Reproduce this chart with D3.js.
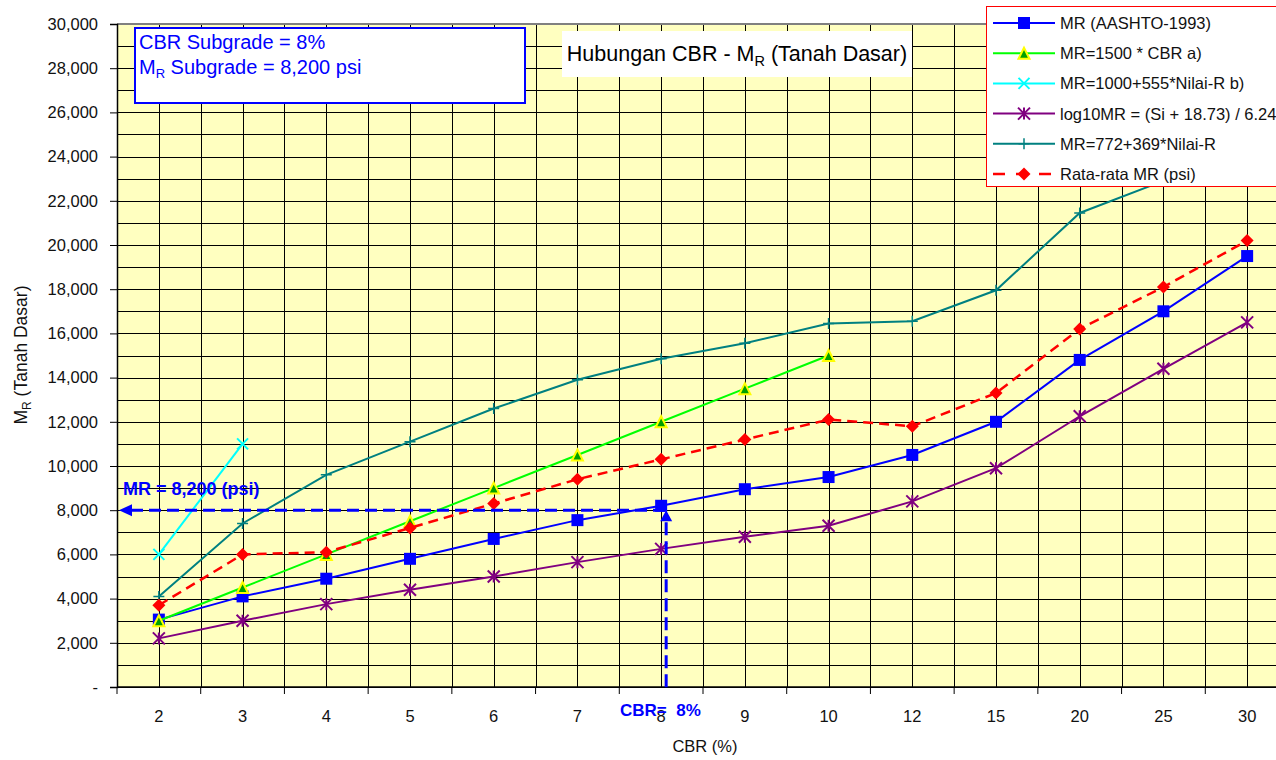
<!DOCTYPE html>
<html>
<head>
  <meta charset="utf-8">
  <title>Hubungan CBR - MR</title>
  <script src="https://d3js.org/d3.v7.min.js"></script>
  <style>
    body { margin: 0; background: #fff; }
    svg { font-family: "Liberation Sans", Arial, sans-serif; }
  </style>
</head>
<body>
<svg width="1276" height="760"></svg>
<script>
// data
var categories = ["2","3","4","5","6","7","8","9","10","12","15","20","25","30"];
var mrAashto   = [3050,4100,4900,5800,6700,7550,8200,8950,9500,10500,12000,14800,17000,19500];
var mrCbr      = [3000,4500,6000,7500,9000,10500,12000,13500,15000,null,null,null,null,null];
var mrNilaiR1  = [6000,11000,null,null,null,null,null,null,null,null,null,null,null,null];
var mrLogSi    = [2200,3000,3750,4400,5000,5650,6250,6800,7300,8400,9900,12250,14400,16500];
var mrNilaiR2  = [4100,7400,9600,11100,12600,13900,14850,15550,16450,16550,17950,21450,22900,24600];
var mrAverage  = [3700,6000,6100,7200,8300,9400,10300,11200,12100,11800,13300,16200,18100,20200];
var yTicks = d3.range(0, 30001, 2000);
var yGrid = d3.range(0, 30001, 1000);
var mrSubgrade = 8000;   // level of the horizontal arrow
var cbrSubgrade = "8";

var series = [
  {name: "MR (AASHTO-1993)", values: mrAashto, color: "#0000ff", marker: "square"},
  {name: "MR=1500 * CBR a)", values: mrCbr, color: "#00ff00", marker: "triangle"},
  {name: "MR=1000+555*Nilai-R b)", values: mrNilaiR1, color: "#00ffff", marker: "x"},
  {name: "log10MR = (Si + 18.73) / 6.24", values: mrLogSi, color: "#800080", marker: "star"},
  {name: "MR=772+369*Nilai-R", values: mrNilaiR2, color: "#008080", marker: "plus"},
  {name: "Rata-rata MR (psi)", values: mrAverage, color: "#ff0000", marker: "diamond", dash: "10,6"}
];

var svg = d3.select("svg");
var pLeft = 117, pTop = 24, pBottom = 687, pRight = 1289;

var x = d3.scaleBand().domain(categories).range([pLeft, pRight]);
var bw = x.bandwidth();
var xc = function(c) { return x(c) + bw / 2; };
var y = d3.scaleLinear().domain([0, 30000]).range([pBottom, pTop]);

// plot background
svg.append("rect").attr("x", pLeft).attr("y", pTop).attr("width", pRight - pLeft).attr("height", pBottom - pTop)
  .attr("fill", "#ffffc0");

// grid
var grid = svg.append("g").attr("shape-rendering", "crispEdges");
grid.selectAll(".hg").data(yGrid).enter().append("line")
  .attr("x1", pLeft).attr("x2", pRight)
  .attr("y1", function(d) { return Math.round(y(d)) + 0.5; })
  .attr("y2", function(d) { return Math.round(y(d)) + 0.5; })
  .attr("stroke", "#000").attr("stroke-width", 1);
var vx = [];
categories.forEach(function(c) { vx.push(x(c)); vx.push(xc(c)); });
grid.selectAll(".vg").data(vx).enter().append("line")
  .attr("y1", pTop).attr("y2", pBottom)
  .attr("x1", function(d) { return Math.round(d) + 0.5; })
  .attr("x2", function(d) { return Math.round(d) + 0.5; })
  .attr("stroke", "#000").attr("stroke-width", 1);
svg.append("line").attr("x1", pLeft).attr("x2", pRight).attr("y1", pTop).attr("y2", pTop)
  .attr("stroke", "#808080").attr("stroke-width", 2);

// axes
var yAxis = d3.axisLeft(y).tickValues(yTicks).tickSize(7).tickPadding(12)
  .tickFormat(function(d) { return d === 0 ? "-" : d3.format(",")(d); });
var gy = svg.append("g").attr("transform", "translate(" + pLeft + ",0)").call(yAxis);
gy.select(".domain").attr("stroke", "#000").attr("stroke-width", 1.5);
gy.selectAll("text").attr("font-size", 16.5).attr("fill", "#111").attr("font-family", "Liberation Sans, Arial");

var gx = svg.append("g").attr("transform", "translate(0," + pBottom + ")");
gx.append("line").attr("x1", pLeft).attr("x2", pRight).attr("stroke", "#000").attr("stroke-width", 1.5);
gx.selectAll(".tk").data(categories.concat(["end"])).enter().append("line")
  .attr("x1", function(d, i) { return pLeft + i * bw; })
  .attr("x2", function(d, i) { return pLeft + i * bw; })
  .attr("y1", 0).attr("y2", 7).attr("stroke", "#000");
gx.selectAll(".lb").data(categories).enter().append("text")
  .attr("x", function(d) { return xc(d); }).attr("y", 35)
  .attr("text-anchor", "middle").attr("font-size", 16.5).attr("fill", "#111")
  .text(function(d) { return d; });

svg.append("text").attr("x", 705).attr("y", 752).attr("text-anchor", "middle")
  .attr("font-size", 16.5).attr("fill", "#111").text("CBR (%)");
var yl = svg.append("text").attr("transform", "translate(27,355) rotate(-90)")
  .attr("text-anchor", "middle").attr("font-size", 17.5).attr("fill", "#111");
yl.append("tspan").text("M");
yl.append("tspan").attr("font-size", 12).attr("dy", 4).text("R");
yl.append("tspan").attr("dy", -4).text(" (Tanah Dasar)");

// markers
function markerPath(type, s) {
  var h = s / 2;
  if (type === "square") return "M" + -h + "," + -h + "H" + h + "V" + h + "H" + -h + "Z";
  if (type === "diamond") return "M0," + -h + "L" + h + ",0L0," + h + "L" + -h + ",0Z";
  if (type === "triangle") return "M0," + -h + "L" + h + "," + h + "L" + -h + "," + h + "Z";
  if (type === "x") return "M" + -h + "," + -h + "L" + h + "," + h + "M" + h + "," + -h + "L" + -h + "," + h;
  if (type === "star") return "M" + -h + "," + -h + "L" + h + "," + h + "M" + h + "," + -h + "L" + -h + "," + h + "M0," + -h + "V" + h;
  if (type === "plus") return "M" + -h + ",0H" + h + "M0," + -h + "V" + h;
}
function drawMarker(g, type, color, size) {
  var p = g.append("path").attr("d", markerPath(type, size));
  if (type === "square" || type === "diamond") p.attr("fill", color);
  else if (type === "triangle") p.attr("fill", "#00a000").attr("stroke", "#ffff00").attr("stroke-width", 2);
  else p.attr("fill", "none").attr("stroke", color).attr("stroke-width", type === "plus" ? 1.5 : 2);
  return p;
}
var msize = {square: 12, diamond: 13, triangle: 11, x: 11, star: 12, plus: 11};

var line = d3.line()
  .defined(function(d) { return d != null; })
  .x(function(d, i) { return xc(categories[i]); })
  .y(function(d) { return y(d); });

series.forEach(function(s) {
  var g = svg.append("g");
  g.append("path").attr("d", line(s.values)).attr("fill", "none")
    .attr("stroke", s.color).attr("stroke-width", s.dash ? 2.5 : 2)
    .attr("stroke-dasharray", s.dash || null);
  s.values.forEach(function(v, i) {
    if (v == null) return;
    var mg = g.append("g").attr("transform", "translate(" + xc(categories[i]) + "," + y(v) + ")");
    drawMarker(mg, s.marker, s.color, msize[s.marker]);
  });
});

// subgrade annotation
var ay = y(mrSubgrade), ax = xc(cbrSubgrade) + bw * 0.06;
svg.append("line").attr("x1", pLeft + 14).attr("x2", ax).attr("y1", ay).attr("y2", ay)
  .attr("stroke", "#0000ff").attr("stroke-width", 3).attr("stroke-dasharray", "12,6");
svg.append("path").attr("d", "M" + (pLeft + 2) + "," + ay + "l13,-6v12z").attr("fill", "#0000ff");
svg.append("line").attr("x1", ax).attr("x2", ax).attr("y1", ay + 12).attr("y2", 692)
  .attr("stroke", "#0000ff").attr("stroke-width", 3).attr("stroke-dasharray", "13,6");
svg.append("path").attr("d", "M" + ax + "," + (ay) + "l6,11h-12z").attr("fill", "#0000ff");
svg.append("text").attr("x", pLeft + 6).attr("y", ay - 15).attr("font-size", 18).attr("font-weight", "bold")
  .attr("fill", "#0000ff").text("MR = 8,200 (psi)");
svg.append("text").attr("x", 620).attr("y", 716).attr("font-size", 17).attr("font-weight", "bold")
  .attr("fill", "#0000ff").attr("xml:space", "preserve").style("white-space", "pre").text("CBR=  8%");

// info box
svg.append("rect").attr("x", 135).attr("y", 28).attr("width", 390).attr("height", 75)
  .attr("fill", "#fff").attr("stroke", "#0000ff").attr("stroke-width", 2);
svg.append("text").attr("x", 139).attr("y", 49).attr("font-size", 20).attr("fill", "#0000ff")
  .text("CBR Subgrade = 8%");
var t2 = svg.append("text").attr("x", 139).attr("y", 74).attr("font-size", 20).attr("fill", "#0000ff");
t2.append("tspan").text("M");
t2.append("tspan").attr("font-size", 13).attr("dy", 4).text("R");
t2.append("tspan").attr("dy", -4).text(" Subgrade = 8,200 psi");

// title
svg.append("rect").attr("x", 562).attr("y", 31).attr("width", 350).attr("height", 46).attr("fill", "#fff");
var tt = svg.append("text").attr("x", 737).attr("y", 61).attr("text-anchor", "middle")
  .attr("font-size", 21.5).attr("fill", "#000");
tt.append("tspan").text("Hubungan CBR - M");
tt.append("tspan").attr("font-size", 14.5).attr("dy", 5).text("R");
tt.append("tspan").attr("dy", -5).text(" (Tanah Dasar)");

// legend
var lg = svg.append("g");
lg.append("rect").attr("x", 986.5).attr("y", 6.5).attr("width", 300).attr("height", 180)
  .attr("fill", "#fff").attr("stroke", "#ff0000").attr("stroke-width", 1);
series.forEach(function(s, i) {
  var ly = 23 + i * 30.2;
  lg.append("line").attr("x1", 993).attr("x2", 1055).attr("y1", ly).attr("y2", ly)
    .attr("stroke", s.color).attr("stroke-width", s.dash ? 2.5 : 2)
    .attr("stroke-dasharray", s.dash ? "12,11" : null);
  var mg = lg.append("g").attr("transform", "translate(1024," + ly + ")");
  drawMarker(mg, s.marker, s.color, msize[s.marker]);
  lg.append("text").attr("x", 1060).attr("y", ly + 6).attr("font-size", 16.5).attr("fill", "#111").text(s.name);
});
</script>
</body>
</html>
